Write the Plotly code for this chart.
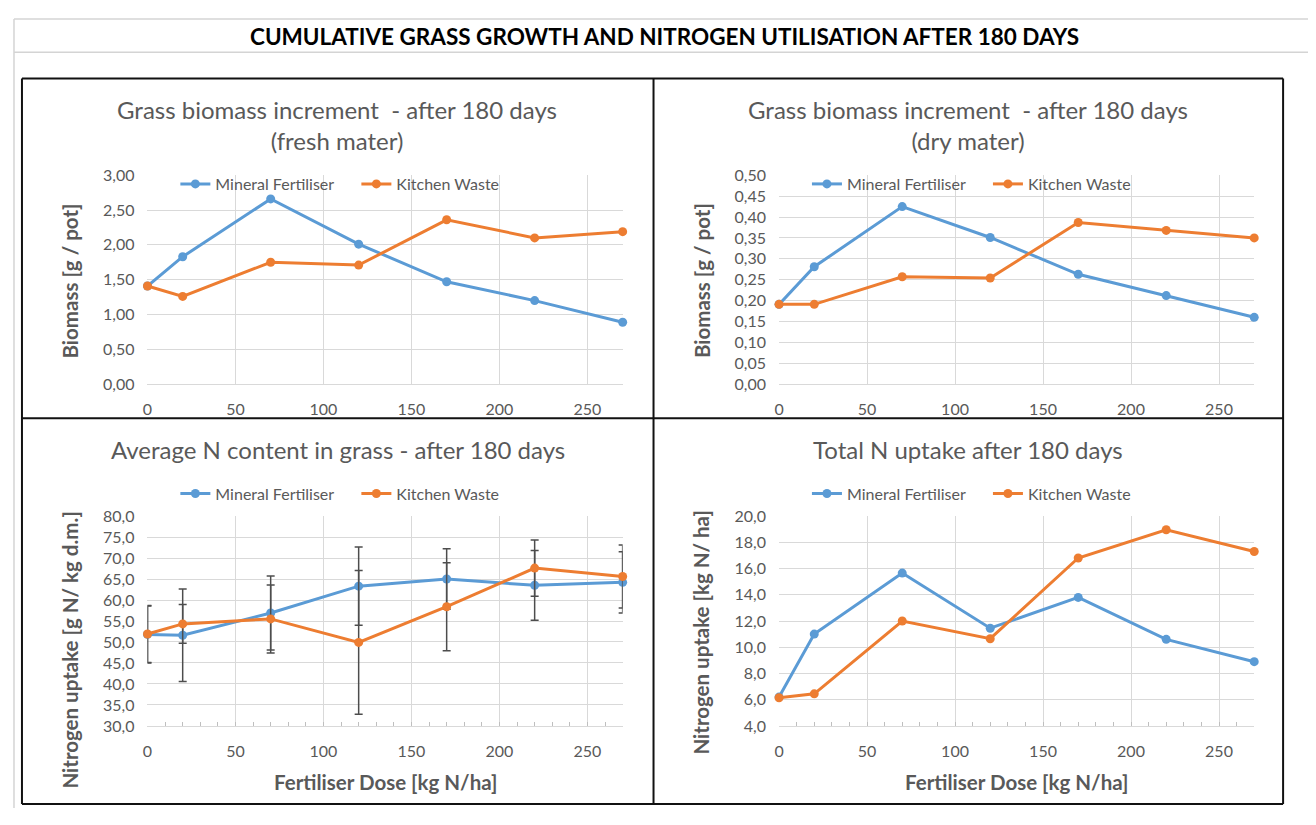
import plotly.graph_objects as go

# ---------------- data ----------------
dose = [0, 20, 70, 120, 170, 220, 270]

fresh_mineral = [1.41, 1.83, 2.66, 2.01, 1.47, 1.20, 0.89]
fresh_kitchen = [1.41, 1.26, 1.75, 1.71, 2.36, 2.10, 2.19]

dry_mineral = [0.191, 0.281, 0.425, 0.351, 0.263, 0.212, 0.160]
dry_kitchen = [0.191, 0.191, 0.257, 0.254, 0.387, 0.368, 0.350]

ncontent_mineral = [51.8, 51.6, 56.9, 63.3, 65.0, 63.5, 64.2]
ncontent_kitchen = [51.9, 54.3, 55.5, 49.9, 58.4, 67.6, 65.6]
ncontent_mineral_err = [6.8, 11.0, 8.8, 9.3, 7.2, 8.3, 7.3]
ncontent_kitchen_err = [6.8, 4.6, 8.1, 17.1, 10.5, 6.7, 7.5]

nuptake_mineral = [6.2, 11.0, 15.65, 11.45, 13.8, 10.6, 8.9]
nuptake_kitchen = [6.15, 6.45, 12.0, 10.65, 16.8, 18.95, 17.3]

series_names = ["Mineral Fertiliser", "Kitchen Waste"]

main_title = "CUMULATIVE GRASS GROWTH AND NITROGEN UTILISATION AFTER 180 DAYS"
panel_titles = [
    "Grass biomass increment  - after 180 days<br>(fresh mater)",
    "Grass biomass increment  - after 180 days<br>(dry mater)",
    "Average N content in grass - after 180 days",
    "Total N uptake after 180 days",
]
y_titles = ["Biomass [g / pot]", "Biomass [g / pot]",
            "Nitrogen uptake [g N/ kg d.m.]", "Nitrogen uptake [kg N/ ha]"]
x_title = "Fertiliser Dose [kg N/ha]"

# ---------------- styling ----------------
# The page keeps the browser's default 8px body margin, so the figure is
# sized to fit the 1316x825 window exactly and page coordinates are offset.
OFF = 8
FW, FH = 1300, 809
BLUE = "#5B9BD5"
ORANGE = "#ED7D31"
GRID = "#D9D9D9"
TXT = "#595959"
FONT = "Lato"


def px(x):
    return (x - OFF) / FW


def py(y):
    return 1 - (y - OFF) / FH


# plot areas in page pixels (x0, x1, y0, y1)
areas = [
    (143, 620, 169, 383),
    (777, 1254, 169, 383),
    (143, 620, 518, 733),
    (777, 1254, 518, 733),
]
y_ranges = [[0, 3], [0, 0.5], [30, 80], [4, 20]]
y_dticks = [0.5, 0.05, 5, 2]
y_formats = [".2f", ".2f", ".1f", ".1f"]

fig = go.Figure()

data_sets = [
    (fresh_mineral, fresh_kitchen, None, None),
    (dry_mineral, dry_kitchen, None, None),
    (ncontent_mineral, ncontent_kitchen, ncontent_mineral_err, ncontent_kitchen_err),
    (nuptake_mineral, nuptake_kitchen, None, None),
]

for i, (mv, kv, me, ke) in enumerate(data_sets):
    n = i + 1
    xa = "x" if n == 1 else f"x{n}"
    ya = "y" if n == 1 else f"y{n}"
    lg = "legend" if n == 1 else f"legend{n}"
    for vals, err, col, name in [(mv, me, BLUE, series_names[0]),
                                 (kv, ke, ORANGE, series_names[1])]:
        tr = dict(
            x=dose, y=vals, name=name, mode="lines+markers",
            line=dict(color=col, width=3),
            marker=dict(color=col, size=9, symbol="circle"),
            xaxis=xa, yaxis=ya, legend=lg, cliponaxis=False,
        )
        if err is not None:
            tr["error_y"] = dict(type="data", array=err, visible=True,
                                 color="#4D4D4D", thickness=1.5, width=4)
        fig.add_trace(go.Scatter(**tr))

layout = dict(
    width=FW, height=FH, autosize=False,
    margin=dict(l=0, r=0, t=0, b=0),
    paper_bgcolor="white", plot_bgcolor="white",
    separators=", ",
    font=dict(family=FONT, color=TXT, size=16),
    shapes=[], annotations=[],
)

legend_pos = [(171, 178), (805, 178), (171, 495), (805, 495)]

for i in range(4):
    n = i + 1
    x0, x1, y0, y1 = areas[i]
    xkey = "xaxis" if n == 1 else f"xaxis{n}"
    ykey = "yaxis" if n == 1 else f"yaxis{n}"
    anchor_x = "y" if n == 1 else f"y{n}"
    anchor_y = "x" if n == 1 else f"x{n}"
    xa = dict(
        domain=[px(x0), px(x1)], anchor=anchor_x, range=[0, 270],
        tick0=0, dtick=50, showgrid=True, gridcolor=GRID, gridwidth=1,
        showline=True, linecolor=GRID, linewidth=1, zeroline=False,
        tickfont=dict(family=FONT, size=16, color=TXT),
        ticklabelstandoff=11, fixedrange=True,
    )
    if i >= 2:
        xa.update(ticks="inside", ticklen=4, tickcolor="#BFBFBF",
                  minor=dict(dtick=10, tick0=0, ticks="inside", ticklen=4,
                             tickcolor="#BFBFBF", showgrid=False))
    ya = dict(
        domain=[py(y1), py(y0)], anchor=anchor_y, range=y_ranges[i],
        tick0=y_ranges[i][0], dtick=y_dticks[i], tickformat=y_formats[i],
        showgrid=True, gridcolor=GRID, gridwidth=1, zeroline=False,
        showline=False, tickfont=dict(family=FONT, size=16, color=TXT),
        ticklabelstandoff=12, fixedrange=True,
    )
    layout[xkey] = xa
    layout[ykey] = ya

    lkey = "legend" if n == 1 else f"legend{n}"
    lx, ly = legend_pos[i]
    layout[lkey] = dict(
        orientation="h", x=px(lx), y=py(ly), xanchor="left", yanchor="middle",
        xref="paper", yref="paper", bgcolor="rgba(0,0,0,0)",
        font=dict(family=FONT, size=16, color=TXT),
        entrywidth=136, entrywidthmode="pixels", traceorder="normal",
    )

# ---------------- text ----------------
ann = layout["annotations"]
ann.append(dict(text="<b>" + main_title + "</b>", x=px(662), y=py(27),
                xref="paper", yref="paper", showarrow=False,
                font=dict(family=FONT, size=22.5, color="black"),
                xanchor="center", yanchor="middle"))

title_centers = [(333, 118), (967, 118), (334, 450), (967, 450)]
for i, t in enumerate(panel_titles):
    cx, cy = title_centers[i]
    ann.append(dict(text=t, x=px(cx), y=py(cy), xref="paper", yref="paper",
                    showarrow=False, font=dict(family=FONT, size=24, color=TXT),
                    xanchor="center", yanchor="middle"))

ytitle_pos = [(65, 277), (699, 277), (65, 655), (699, 637)]
for i, t in enumerate(y_titles):
    cx, cy = ytitle_pos[i]
    ann.append(dict(text="<b>" + t + "</b>", x=px(cx), y=py(cy),
                    xref="paper", yref="paper", showarrow=False, textangle=-90,
                    font=dict(family=FONT, size=20.5, color=TXT),
                    xanchor="center", yanchor="middle"))

for cx in (382, 1015):
    ann.append(dict(text="<b>" + x_title + "</b>", x=px(cx), y=py(790),
                    xref="paper", yref="paper", showarrow=False,
                    font=dict(family=FONT, size=20.5, color=TXT),
                    xanchor="center", yanchor="middle"))

# ---------------- sheet lines ----------------
shp = layout["shapes"]
SHEET = "#D4D4D4"


def line(xa, ya, xb, yb, color, width):
    shp.append(dict(type="line", xref="paper", yref="paper",
                    x0=px(xa), y0=py(ya), x1=px(xb), y1=py(yb),
                    line=dict(color=color, width=width), layer="below"))


line(9, 9, OFF + FW, 9, SHEET, 1.5)
line(9, 43, OFF + FW, 43, SHEET, 1.5)
line(9, 9, 9, OFF + FH, SHEET, 1.5)

BLK = "#111111"
line(17, 70, 1283, 70, BLK, 2)
line(17, 813, 1283, 813, BLK, 2)
line(17, 70, 17, 813, BLK, 2)
line(1283, 70, 1283, 813, BLK, 2)
line(651, 70, 651, 813, BLK, 2)
line(17, 418, 1283, 418, BLK, 2)

fig.update_layout(**layout)

fig.write_html("out.html", config={"displayModeBar": False})
